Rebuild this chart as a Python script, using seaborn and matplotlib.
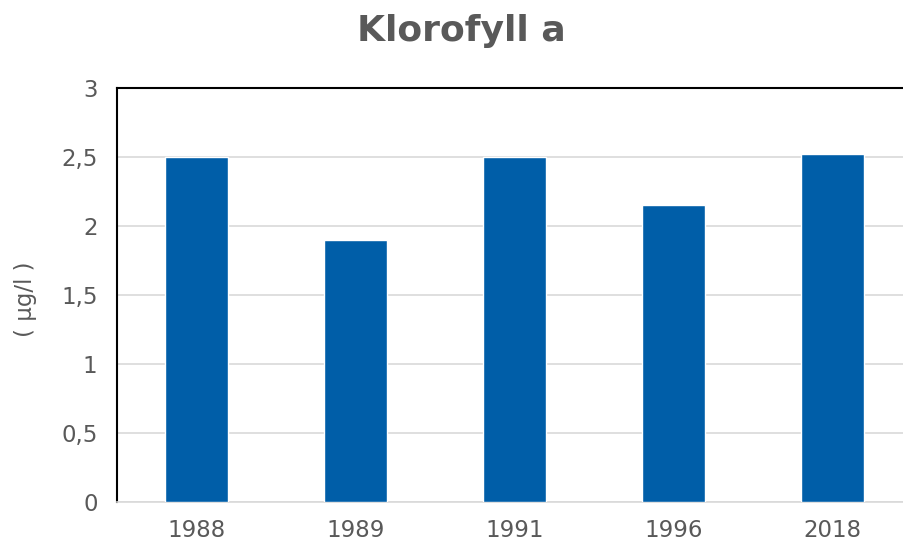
import matplotlib
matplotlib.use("Agg")
import matplotlib.pyplot as plt
import seaborn as sns
import pandas as pd

# Chart data
years = ["1988", "1989", "1991", "1996", "2018"]
chlorophyll = [2.50, 1.90, 2.50, 2.15, 2.52]
y_ticks = [0, 0.5, 1, 1.5, 2, 2.5, 3]
y_tick_labels = ["0", "0,5", "1", "1,5", "2", "2,5", "3"]

df = pd.DataFrame({"Year": years, "Value": chlorophyll})

sns.set_style("white")
plt.rcParams["font.family"] = ["DejaVu Sans"]
text_color = "#595959"

fig = plt.figure(figsize=(9.04, 5.44), dpi=100)
ax = fig.add_axes([0.1294, 0.0772, 0.8794, 0.761])

sns.barplot(data=df, x="Year", y="Value", color="#005EA8", width=0.4,
            saturation=1, ax=ax, zorder=3)

ax.set_xlim(-0.5, 4.5)
ax.set_ylim(0, 3)
ax.set_yticks(y_ticks)
ax.set_yticklabels(y_tick_labels)
ax.yaxis.grid(True, color="#D9D9D9", linewidth=1.2, zorder=0)
ax.tick_params(axis="both", labelsize=16.5, colors=text_color, length=0)
ax.tick_params(axis="y", pad=14)
ax.tick_params(axis="x", pad=12)

ax.set_xlabel(None)
ax.set_ylabel("( µg/l )", fontsize=16.5, color=text_color)
ax.yaxis.set_label_coords(-0.101, 0.49)

# Spines: black left/top, light bottom, no right
for side in ["left", "top"]:
    ax.spines[side].set_color("black")
    ax.spines[side].set_linewidth(1.5)
ax.spines["bottom"].set_color("#D9D9D9")
ax.spines["bottom"].set_linewidth(1.2)
ax.spines["right"].set_visible(False)

fig.suptitle("Klorofyll a", fontsize=26, fontweight="bold", color=text_color,
             x=0.51, y=0.975)

plt.savefig("out.png", dpi=100)
